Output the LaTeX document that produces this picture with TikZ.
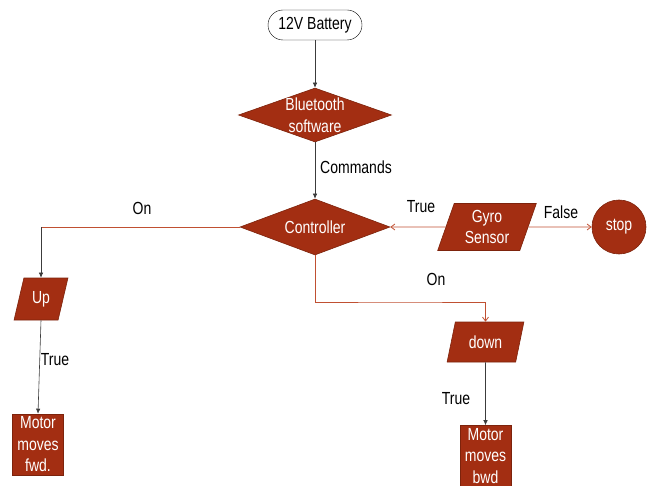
\documentclass[tikz,border=0pt]{standalone}
\usepackage{fontspec}
\setmainfont{Liberation Sans}[FakeStretch=0.8]
\usetikzlibrary{shapes.geometric,shapes.misc,arrows.meta}
\definecolor{rust}{RGB}{163,46,18}
\definecolor{rustdark}{RGB}{125,35,12}
\definecolor{rustline}{RGB}{192,80,50}
\definecolor{darkline}{RGB}{60,60,60}
\tikzset{
  box/.style={draw=rustdark, fill=rust, line width=0.6pt, inner sep=0pt},
  dia/.style={box, diamond, inner sep=0.5pt},
  para/.style={box, trapezium, trapezium left angle=72, trapezium right angle=108, trapezium stretches=true, inner sep=1pt},
  wtxt/.style={text=white, align=center, font=\fontsize{17.5}{21.5}\selectfont},
  ltxt/.style={text=white, align=center, inner sep=0pt, font=\fontsize{17.5}{22}\selectfont},
  lab/.style={text=black, inner sep=0pt, font=\fontsize{17.5}{21}\selectfont},
  blk/.style={draw=darkline, line width=0.6pt, -{Latex[length=5pt,width=4.5pt]}},
  brn/.style={draw=rustline, line width=0.8pt},
  brna/.style={brn, -{Straight Barb[length=4pt,width=6pt]}},
}
\begin{document}
\begin{tikzpicture}[x=1pt,y=-1pt]
\useasboundingbox (0,0) rectangle (652,486);
% nodes
\node[draw=black, fill=white, rounded corners=15pt, minimum width=94pt, minimum height=30pt, inner sep=0pt, lab] (bat) at (315,25) {12V Battery};
\node[dia, minimum width=153pt, minimum height=54pt] (bt) at (315,115) {};
\node[ltxt] (btt) at (315,115) {Bluetooth\\software};
\node[dia, minimum width=150pt, minimum height=56pt] (ctrl) at (315,227) {};
\node[ltxt] (ctrlt) at (315,227) {Controller};
\node[para, wtxt, minimum width=99pt, minimum height=47pt] (gyro) at (487,227) {Gyro\\Sensor};
\node[box, circle, minimum size=54pt, wtxt] (stop) at (619,227) {stop};
\node[para, wtxt, minimum width=54pt, minimum height=42pt] (up) at (41,299) {Up};
\node[box, minimum width=51pt, minimum height=61pt, wtxt] (fwd) at (38,444.5) {Motor\\moves\\fwd.};
\node[para, wtxt, minimum width=77pt, minimum height=40pt] (down) at (485.5,342) {down};
\node[box, minimum width=51pt, minimum height=61pt, wtxt] (bwd) at (485.5,456) {Motor\\moves\\bwd};
% labels
\node[lab] (lcmd) at (356,167) {Commands};
\node[lab] (lon1) at (142,208) {On};
\node[lab] (ltr1) at (421,207) {True};
\node[lab] (lfal) at (561,212) {False};
\node[lab] (lon2) at (436,279) {On};
\node[lab] (ltr2) at (55,360) {True};
\node[lab] (ltr3) at (456,399) {True};
% connectors
\draw[blk] (bat.south) -- (bt.north);
\draw[blk] (bt.south) -- (ctrl.north);
\coordinate (k1) at (ctrl.west -| up.north);
\draw[brn] (ctrl.west) -- (k1);
\draw[blk] (k1) -- (up.north);
\draw[blk] (up.south) -- (fwd.north);
\coordinate (k2) at (400,302);
\draw[brna] (ctrl.south) |- (k2) -| (down.north);
\draw[blk] (down.south) -- (bwd.north);
\draw[brna] (gyro.west) -- (ctrl.east);
\draw[brna] (gyro.east) -- (stop.west);
\end{tikzpicture}
\end{document}
